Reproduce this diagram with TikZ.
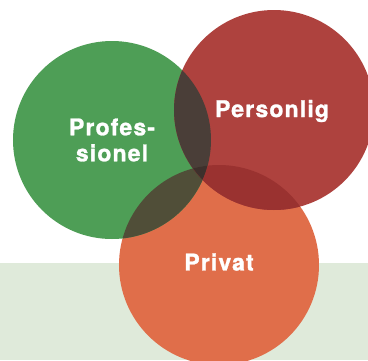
\documentclass[tikz,border=0pt]{standalone}
\usepackage{fontspec}
\newfontfamily\labelfont[LetterSpace=5, FakeBold=1.2]{TeX Gyre Heros}
\definecolor{profgreen}{RGB}{78, 158, 86}
\definecolor{persred}{RGB}{174, 66, 62}
\definecolor{privorange}{RGB}{224, 110, 74}
\definecolor{lensgp}{RGB}{74, 62, 56}
\definecolor{lensgo}{RGB}{80, 78, 56}
\definecolor{lensrp}{RGB}{154, 50, 48}
\definecolor{lensall}{RGB}{62, 48, 44}
\definecolor{bandbg}{RGB}{223, 234, 218}
\usetikzlibrary{positioning}

\begin{document}
\begin{tikzpicture}[x=1pt, y=-1pt,
  ring/.style={circle, inner sep=0pt, minimum size=200pt, text=white, align=center,
    font=\labelfont\bfseries\fontsize{23}{26}\selectfont}]
  \clip (0,0) rectangle (368,360);

  % Background
  \fill[white] (0,0) rectangle (368,263);
  \fill[bandbg] (0,263) rectangle (368,360);

  % Circles
  \node[ring, fill=privorange] (privat) at (219,265) {};
  \node[ring, fill=profgreen, minimum size=198pt] (prof) at (112,140) {Profes-\\sionel};
  \node[ring, fill=persred] (pers) at (274,110) {};

  % Overlaps
  \begin{scope}
    \clip (prof.center) circle (99pt);
    \fill[lensgp] (pers.center) circle (100pt);
    \fill[lensgo] (privat.center) circle (100pt);
    \clip (pers.center) circle (100pt);
    \fill[lensall] (privat.center) circle (100pt);
  \end{scope}
  \begin{scope}
    \clip (pers.center) circle (100pt);
    \clip (privat.center) circle (100pt);
    \fill[lensrp, even odd rule] (pers.center) circle (100pt) (prof.center) circle (99pt);
  \end{scope}

  % Labels
  \node[ring, minimum size=0pt] (perslbl) at (272,111) {Personlig};
  \node[ring, minimum size=0pt] (privlbl) at (219,262) {Privat};
\end{tikzpicture}
\end{document}
